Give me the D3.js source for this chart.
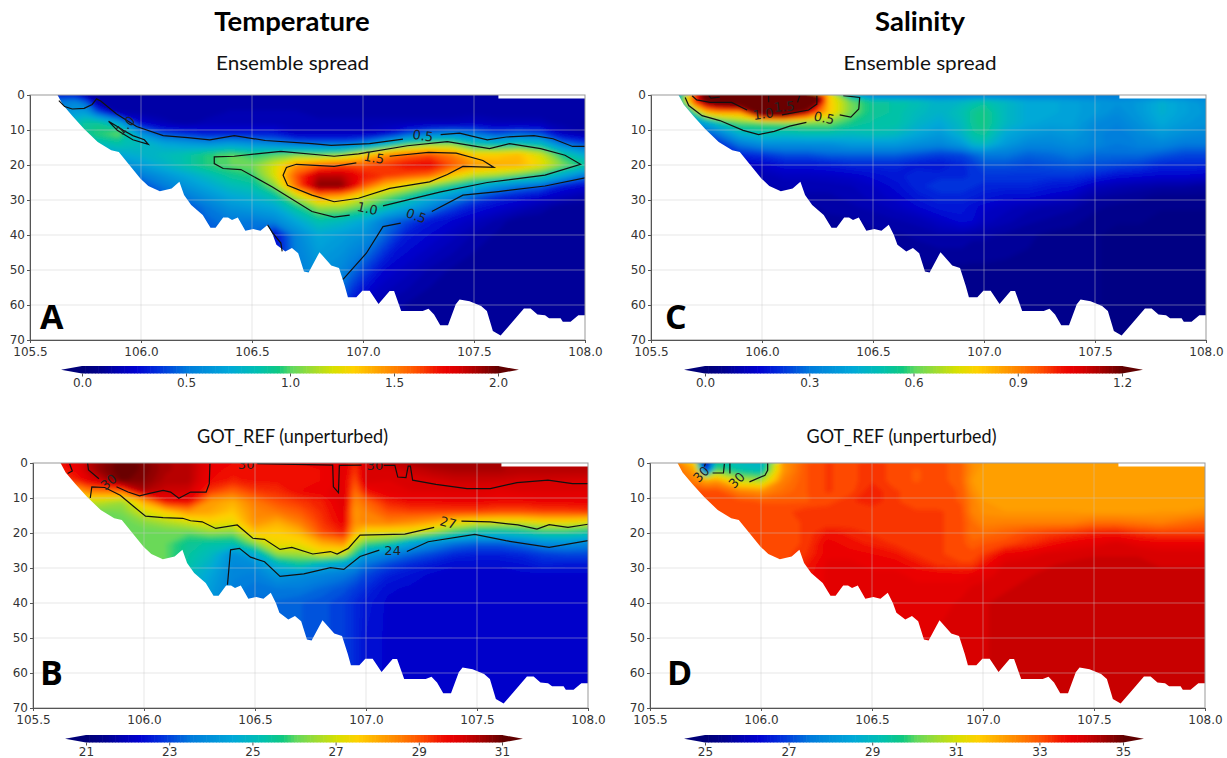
<!DOCTYPE html>
<html>
<head>
<meta charset="utf-8">
<script src="https://cdn.jsdelivr.net/npm/d3@7"></script>
<style>
    html, body { margin: 0; padding: 0; background: white; overflow: hidden; }
    svg { display: block; }
    .tick text { font-family: "DejaVu Sans", sans-serif; fill: #333; }
</style>
</head>
<body>
<script>
// grid the section values were read on
const lons = [105.6, 105.7, 105.75, 105.8, 105.9, 106.0, 106.1, 106.2, 106.3, 106.4, 106.5, 106.6, 106.7, 106.8,
    106.9, 106.95, 107.0, 107.1, 107.2, 107.3, 107.4, 107.5, 107.6, 107.7, 107.8, 107.9, 108.0];
const depths = [0, 2, 5, 8, 11, 14, 17, 20, 23, 26, 29, 32, 36, 40, 50, 60, 70];

// sea floor, [lon, depth]
const seaFloor = [[105.624,0],[105.647,2.7],[105.69,5.9],[105.744,9.7],[105.805,13.4],[105.866,15.8],[105.9,16.3],
    [105.954,20.5],[105.998,23.9],[106.033,26],[106.085,27.5],[106.138,26.7],[106.173,24.8],[106.194,28.6],
    [106.226,31.4],[106.278,34.3],[106.313,37.9],[106.336,37.9],[106.37,35],[106.392,35],[106.41,35.7],[106.436,35],
    [106.47,38.8],[106.506,38.3],[106.538,38.8],[106.571,37.1],[106.594,40],[106.61,42.8],[106.65,44.7],[106.68,43.7],
    [106.708,45.2],[106.734,50.4],[106.755,50.7],[106.804,44.9],[106.857,48.7],[106.892,49.4],[106.918,54.6],
    [106.932,57.8],[106.97,57.8],[106.997,55.9],[107.03,55.9],[107.07,59.7],[107.12,56],[107.14,56],[107.172,61.7],
    [107.269,61.7],[107.295,61.1],[107.32,62.7],[107.348,65.8],[107.383,65.8],[107.418,59.8],[107.435,58.4],
    [107.48,58.9],[107.532,60.3],[107.558,61.7],[107.585,67.4],[107.62,68.7],[107.664,65.5],[107.725,61],[107.755,61],
    [107.786,62.7],[107.82,62.9],[107.838,63.8],[107.89,63.8],[107.9,64.8],[107.935,64.8],[107.97,62.9],[108,62.9]];
// no data in the top metre east of here
const surfaceGap = [107.61, 1];

const spreadTemp = [
    [.3,.3,.15,.12,.12,.12,.12,.12,.12,.12,.12,.12,.12,.12,.12,.12,.12,.12,.12,.12,.12,.12,.12,.12,.12,.12,.12],
    [.5,.55,.45,.15,.14,.14,.14,.14,.14,.14,.14,.14,.14,.14,.14,.14,.14,.14,.14,.14,.14,.14,.14,.14,.14,.14,.14],
    [.5,.65,.65,.45,.15,.14,.14,.14,.14,.16,.16,.16,.16,.14,.14,.14,.14,.14,.14,.14,.14,.14,.14,.14,.14,.14,.14],
    [.5,.8,.9,.9,.7,.25,.17,.14,.17,.17,.17,.17,.17,.17,.17,.17,.17,.17,.17,.17,.17,.2,.17,.17,.17,.14,.12],
    [.5,.8,.9,.95,1.02,.6,.4,.35,.3,.3,.3,.3,.2,.2,.2,.2,.2,.25,.4,.5,.55,.5,.4,.45,.4,.2,.15],
    [.5,.7,.75,.8,.85,.8,.7,.65,.6,.65,.6,.55,.5,.48,.48,.5,.55,.75,.95,1.05,1.05,.85,.8,.85,.8,.5,.4],
    [.4,.5,.55,.6,.7,.75,.8,.85,.95,1.0,.95,.98,1.02,1.0,1.05,1.15,1.25,1.45,1.55,1.6,1.5,1.3,1.3,1.35,1.2,.9,.7],
    [.3,.4,.45,.5,.55,.65,.75,.85,.95,1.0,1.03,1.2,1.45,1.55,1.6,1.6,1.6,1.65,1.72,1.75,1.6,1.45,1.4,1.38,1.25,1.05,.9],
    [.3,.35,.38,.4,.45,.5,.6,.7,.8,.9,.95,1.2,1.6,1.85,1.85,1.78,1.7,1.65,1.6,1.55,1.3,1.15,1.1,1.0,.9,.7,.5],
    [.3,.3,.3,.3,.35,.4,.5,.6,.7,.8,.85,1.05,1.55,1.95,1.95,1.8,1.6,1.35,1.2,1.05,.9,.75,.6,.5,.45,.3,.25],
    [.3,.3,.3,.3,.3,.35,.42,.5,.6,.7,.75,.85,1.15,1.45,1.4,1.3,1.2,1.05,.9,.75,.6,.45,.35,.3,.25,.2,.15],
    [.3,.3,.3,.3,.3,.3,.35,.4,.5,.6,.65,.7,.9,1.1,1.1,1.05,1.0,.85,.7,.55,.4,.3,.25,.2,.15,.1,.1],
    [.3,.3,.3,.3,.3,.3,.32,.38,.45,.5,.5,.55,.7,.85,.8,.75,.7,.5,.4,.3,.25,.2,.15,.1,.1,.1,.1],
    [.3,.3,.3,.3,.3,.3,.3,.35,.4,.45,.45,.25,.55,.7,.65,.62,.6,.45,.3,.25,.2,.15,.12,.1,.1,.1,.1],
    [.3,.3,.3,.3,.3,.3,.3,.3,.35,.4,.4,.25,.5,.6,.55,.48,.4,.25,.2,.15,.12,.1,.1,.1,.1,.1,.1],
    [.3,.3,.3,.3,.3,.3,.3,.3,.35,.4,.4,.25,.5,.5,.4,.28,.2,.15,.12,.1,.1,.1,.1,.1,.1,.1,.1],
    [.3,.3,.3,.3,.3,.3,.3,.3,.35,.4,.4,.25,.5,.5,.4,.28,.2,.15,.12,.1,.1,.1,.1,.1,.1,.1,.1]
];

const spreadSal = [
    [.3,1.0,1.35,1.5,1.5,1.6,1.7,1.6,.8,.45,.3,.3,.3,.3,.3,.3,.3,.3,.3,.3,.3,.3,.3,.3,.3,.3,.3],
    [.3,1.0,1.2,1.3,1.4,1.6,1.7,1.7,.8,.62,.54,.52,.5,.45,.47,.5,.52,.47,.42,.42,.4,.38,.36,.38,.44,.4,.36],
    [.2,.6,.8,.85,.85,1.4,1.4,1.1,.8,.62,.54,.52,.48,.45,.5,.54,.56,.47,.42,.42,.4,.38,.34,.38,.44,.4,.37],
    [.15,.35,.42,.5,.6,.6,.62,.62,.62,.56,.52,.52,.46,.42,.48,.54,.56,.47,.42,.4,.4,.34,.32,.36,.42,.38,.36],
    [.1,.2,.25,.3,.45,.5,.48,.5,.5,.48,.5,.48,.42,.38,.46,.52,.54,.42,.38,.36,.38,.33,.3,.34,.38,.35,.33],
    [.1,.15,.18,.2,.3,.35,.35,.35,.35,.38,.38,.38,.35,.33,.38,.46,.48,.38,.33,.33,.35,.33,.3,.32,.33,.3,.3],
    [.1,.1,.12,.15,.2,.22,.25,.25,.27,.27,.27,.27,.25,.23,.24,.27,.3,.3,.27,.28,.3,.28,.28,.28,.26,.24,.24],
    [.1,.1,.1,.1,.12,.14,.17,.17,.18,.2,.2,.2,.18,.17,.2,.22,.25,.25,.24,.25,.26,.25,.24,.23,.2,.2,.2],
    [.1,.1,.1,.1,.1,.1,.12,.12,.13,.14,.16,.18,.2,.2,.2,.21,.22,.22,.22,.22,.22,.2,.17,.16,.15,.15,.14],
    [.08,.08,.08,.08,.08,.09,.1,.1,.1,.11,.13,.16,.2,.22,.22,.21,.2,.2,.2,.18,.17,.12,.1,.09,.08,.08,.07],
    [.08,.08,.08,.08,.08,.08,.08,.09,.09,.1,.12,.14,.18,.2,.2,.19,.18,.16,.16,.14,.12,.08,.07,.06,.05,.05,.05],
    [.07,.07,.07,.07,.07,.07,.07,.07,.08,.09,.1,.12,.15,.18,.18,.16,.14,.12,.1,.09,.08,.06,.05,.05,.04,.04,.04],
    [.06,.06,.06,.06,.06,.06,.06,.06,.07,.07,.08,.09,.1,.13,.16,.15,.12,.1,.08,.07,.06,.05,.04,.04,.03,.03,.03],
    [.06,.06,.06,.06,.06,.06,.06,.06,.06,.07,.07,.07,.08,.09,.09,.08,.08,.07,.06,.05,.05,.04,.03,.03,.03,.03,.03],
    [.05,.05,.05,.05,.05,.05,.05,.05,.05,.05,.05,.05,.05,.05,.05,.05,.05,.05,.05,.05,.05,.04,.03,.03,.03,.03,.03],
    [.05,.05,.05,.05,.05,.05,.05,.05,.05,.05,.05,.05,.05,.05,.05,.05,.05,.05,.05,.05,.05,.04,.03,.03,.03,.03,.03],
    [.05,.05,.05,.05,.05,.05,.05,.05,.05,.05,.05,.05,.05,.05,.05,.05,.05,.05,.05,.05,.05,.04,.03,.03,.03,.03,.03]
];

const refTemp = [
    [29.5,29.8,30.3,30.6,31,30.8,30.4,30.3,29.8,29.6,29.6,29.6,29.6,29.7,29.9,29.3,30.1,30.2,30.4,30.5,30.5,30.5,30.4,30.3,30.3,30.3,30.3],
    [29.3,29.7,30.2,30.6,31,30.8,30.4,30.3,29.7,29.5,29.5,29.5,29.5,29.6,29.9,29.2,30,30,30.1,30.3,30.4,30.4,30.4,30.3,30.3,30.3,30.3],
    [29,29.4,29.8,30.1,30.9,30.7,30.3,30.3,29.6,29.4,29.5,29.5,29.5,29.6,29.8,29,30,29.9,30,30,30.1,30.1,30.1,30.03,30.05,30.02,30],
    [28,28,28.5,28.6,28.8,30.4,30.1,30.05,29.2,28.8,29.2,29.3,29.6,29.7,29.9,28.7,29.5,29.8,29.9,29.9,29.9,29.9,29.8,29.9,29.9,29.9,29.9],
    [26,26.3,26.8,26.8,26.5,28,29.6,29.7,28.2,27.9,28.6,29,29.2,29.4,29.9,28.4,28.8,29.4,29.6,29.6,29.7,29.7,29.6,29.6,29.7,29.7,29.7],
    [26,26,26,26.1,26.2,27,27.5,28.2,28,27.6,28.4,28.6,28.9,29.3,29.8,28.2,28.5,29,29.1,29.1,29.1,29.1,29,29,29.1,29.1,29.2],
    [26,26,26,26,26,26.3,26.6,26.9,27.3,27.2,28.3,27.9,28.5,29.2,29.7,28.3,28.4,28.5,28.3,28,27.3,27,26.9,26.9,27.2,27.2,27],
    [26,26,26,26,26,26,26,26,26.3,26.2,27.6,27.5,27.8,29,29.4,27.8,27.2,27.1,27,26.3,25.6,25,25,25.2,25.5,25.5,25.3],
    [26,26,26,26,26,26,26,25.5,25.3,25.2,26.3,27.3,27.3,27.9,28.3,26.7,25.9,25.5,24.4,23.8,23.4,23.2,23.2,23.4,23.8,23.9,23.7],
    [26,26,26,26,26,26,26,25.4,25,23.9,24.6,26.4,26.5,27.1,26.8,25.6,24.2,23.7,23.3,23,22.7,22.6,22.6,22.7,22.9,23,23],
    [26,26,26,26,26,26,26,25.3,24.7,23.8,23.9,24.8,25.4,24.7,24.3,23.9,23.4,23,22.7,22.5,22.3,22.3,22.3,22.4,22.6,22.5,22.5],
    [26,26,26,26,26,26,26,25,24.4,23.7,23.6,24.1,23.9,23.7,23.5,23.3,23,22.6,22.4,22.2,22.1,22.1,22.1,22.2,22.2,22.2,22.2],
    [26,26,26,26,26,26,25.5,25,24.2,23.6,23.4,23.5,23.5,23.3,23.1,22.9,22.7,22.3,22.2,22.1,22.1,22.1,22.1,22.1,22.1,22.1,22.1],
    [26,26,26,26,26,26,25.5,25,24,23.4,23.3,23.3,23.2,23.1,22.9,22.7,22.5,22.2,22.1,22.1,22.1,22.1,22.1,22.1,22.1,22.1,22.1],
    [26,26,26,26,26,26,25.5,25,24,23.4,23.3,23.3,23.2,23.1,22.9,22.7,22.4,22.2,22.1,22.1,22.1,22.1,22.1,22.1,22.1,22.1,22.1],
    [26,26,26,26,26,26,25.5,25,24,23.4,23.3,23.3,23.2,23.1,22.9,22.7,22.4,22.2,22.1,22.1,22.1,22.1,22.1,22.1,22.1,22.1,22.1],
    [26,26,26,26,26,26,25.5,25,24,23.4,23.3,23.3,23.2,23.1,22.9,22.7,22.4,22.2,22.1,22.1,22.1,22.1,22.1,22.1,22.1,22.1,22.1]
];

const refSal = [
    [33,31.5,25.5,29.5,29,28.8,32.3,32.95,33.15,33.05,33.25,33.05,33.05,33.05,32.85,32.35,32.2,32.05,32.05,32.05,32.05,32.05,32.05,32.05,32.05,32.05,32.05],
    [33,32,26.5,30,29.3,29,32.2,32.95,33.15,33.05,33.25,33.05,32.95,33.05,32.85,32.35,32.05,32.05,32.05,32.05,32.05,32.05,32.05,32.05,32.05,32.05,32.05],
    [33,32.5,32,32.2,30.8,30.5,32.5,32.95,33.15,33.05,33.25,33.05,32.95,33.05,32.85,32.2,32.05,32.05,32.05,32.05,32.05,32.05,32.05,32.05,32.05,32.05,32.05],
    [33.05,33.05,33.05,33.05,32.5,32.3,32.7,32.95,33.15,33.05,33.4,33.15,33.05,33.05,32.95,32.35,32.05,32.05,32.05,32.05,32.05,32.05,32.05,32.05,32.05,32.05,32.05],
    [33.05,33.05,33.05,33.05,33.05,32.95,32.95,32.95,33.05,33.25,33.4,33.15,33.05,33.05,32.95,32.5,32.2,32.05,32.05,32.05,32.05,32.05,32.05,32.05,32.05,32.05,32.05],
    [33.05,33.05,33.05,33.05,33.05,33.05,33.05,33.25,33.25,33.15,33.15,33.15,33.15,33.15,33.05,32.5,32.3,32.2,32.2,32.2,32.2,32.15,32.15,32.15,32.2,32.2,32.3],
    [33.05,33.05,33.05,33.05,33.05,33.05,33.05,33.15,33.15,33.15,33.15,33.15,33.15,33.15,33.05,32.7,32.45,32.5,32.5,32.5,32.5,32.7,32.7,32.6,32.5,32.7,32.85],
    [33.05,33.05,33.05,33.05,33.05,33.05,33.05,33.15,33.5,33.4,33.25,33.15,33.15,33.15,33.05,32.7,32.7,32.85,33.05,33.15,33.25,33.4,33.45,33.25,33.15,33.15,33.15],
    [33.05,33.05,33.05,33.05,33.05,33.05,33.05,33.15,33.7,33.5,33.4,33.25,33.15,33.15,33.05,32.85,32.95,33.05,33.25,33.5,33.7,33.8,33.95,33.8,33.7,33.7,33.7],
    [33.05,33.05,33.05,33.05,33.05,33.05,33.05,33.25,33.7,33.7,33.6,33.5,33.25,33.15,33.05,33.05,33.15,33.7,33.8,33.95,34,34.05,34.05,34.05,34,34,34],
    [33.05,33.05,33.05,33.05,33.05,33.05,33.05,33.4,33.8,33.8,33.7,33.7,33.5,33.25,33.15,33.15,33.5,33.95,34,34.05,34.1,34.1,34.1,34.1,34.05,34.05,34.05],
    [33.05,33.05,33.05,33.05,33.05,33.05,33.05,33.5,33.8,33.8,33.8,33.8,33.7,33.7,33.7,33.75,33.8,34,34.05,34.1,34.12,34.12,34.12,34.12,34.1,34.1,34.1],
    [33.05,33.05,33.05,33.05,33.05,33.05,33.05,33.5,33.8,33.8,33.8,33.8,33.8,33.8,33.8,33.95,34,34.05,34.1,34.12,34.12,34.15,34.15,34.12,34.12,34.1,34.1],
    [33.05,33.05,33.05,33.05,33.05,33.05,33.05,33.5,33.8,33.8,33.8,33.8,33.8,33.8,33.95,34,34.05,34.1,34.1,34.12,34.12,34.15,34.15,34.12,34.12,34.1,34.1],
    [33.05,33.05,33.05,33.05,33.05,33.05,33.05,33.5,33.8,33.8,33.8,33.8,33.8,33.95,34,34.05,34.05,34.1,34.1,34.12,34.12,34.15,34.15,34.12,34.12,34.1,34.1],
    [33.05,33.05,33.05,33.05,33.05,33.05,33.05,33.5,33.8,33.8,33.8,33.8,33.8,33.95,34,34.05,34.05,34.1,34.1,34.12,34.12,34.15,34.15,34.12,34.12,34.1,34.1],
    [33.05,33.05,33.05,33.05,33.05,33.05,33.05,33.5,33.8,33.8,33.8,33.8,33.8,33.95,34,34.05,34.05,34.1,34.1,34.12,34.12,34.15,34.15,34.12,34.12,34.1,34.1]
];

// contour lines, [lon, depth]
const spreadTempLines = [
    [[105.63,1.6],[105.656,3.3],[105.69,4],[105.744,3.8],[105.78,2.7],[105.8,1.1],[105.82,1.8],[105.89,5.4],[105.98,9],[106.1,11.6],[106.21,12.2],[106.31,12.8],[106.42,11.6],[106.56,13],[106.77,13.9],[106.857,14.4],[107.03,13.9],[107.18,12.6]],
    [[107.35,11.3],[107.435,10.9],[107.56,12.8],[107.646,12],[107.77,11.6],[107.856,12.5],[107.944,14.7],[108,14.7]],
    [[105.854,7.5],[105.893,10.1],[105.963,12.8],[106.033,14.1],[106.015,12.8],[105.963,11.6],[105.92,10.1],[105.893,9],[105.854,7.5]],
    [[107.09,31.7],[107.35,27.7],[107.56,25],[107.82,22.9],[107.98,19.8],[107.91,17.2],[107.8,15.3],[107.66,13.9],[107.57,15.3],[107.38,13.3],[107.2,14.5],[106.98,16.8],[106.87,17.5],[106.63,16.1],[106.42,17.5],[106.33,17.7],[106.33,19.6],[106.37,21],[106.45,21.3],[106.59,26.2],[106.77,33.3],[106.87,34.9],[106.94,34.3]],
    [[106.97,19.4],[106.87,20.4],[106.7,19.8],[106.655,20.7],[106.64,22.9],[106.66,25.8],[106.77,28.6],[106.87,30.5],[106.98,29.5],[107.12,26.7],[107.3,24.8],[107.38,22.7],[107.45,20.4],[107.59,20.7],[107.54,18.7],[107.42,16.6],[107.295,16.4],[107.12,17.5]],
    [[106.91,52.7],[107.015,45.2],[107.09,37.6],[107.17,36.6]],
    [[107.31,33.3],[107.45,28.6],[107.61,27.6],[107.82,26],[108,23.7]],
    [[106.57,37.1],[106.594,39.5],[106.63,42.3],[106.636,44.7]]
];
const spreadTempLabels = [[107.27,11.6,"0.5",8],[107.05,17.9,"1.5",10],[107.02,32.4,"1.0",12],[107.24,34.5,"0.5",20],[105.93,8.7,"1.0",-45]];

const spreadSalLines = [
    [[105.654,.7],[105.67,3],[105.73,5.9],[105.81,7.3],[105.915,10.1],[105.985,11.3],[106.055,10.4],[106.125,8.9],[106.2,7.8]],
    [[106.35,5.7],[106.4,6.3],[106.436,4],[106.44,.7],[106.366,.2]],
    [[105.685,.2],[105.706,1.4],[105.767,2.1],[105.863,2.1],[105.933,4.3]],
    [[106.09,5.7],[106.21,4.3],[106.247,2.6],[106.247,.2]],
    [[105.76,.2],[105.77,.9],[105.81,.6]],
    [[106.03,.2],[106.03,2.1]],
    [[106.17,.2],[106.16,2.1]]
];
const spreadSalLabels = [[106.006,5.4,"1.0",-8],[106.1,3.3,"1.5",-5],[106.28,6.5,"0.5",12]];

const refTempLines = [
    [[105.665,.2],[105.677,2.3],[105.656,3]],
    [[105.746,0],[105.75,2],[105.797,4.5]],
    [[105.876,6.8],[105.928,8.3],[105.98,9.4],[106.025,8.7],[106.086,7.8],[106.12,8.3],[106.157,10.1],[106.21,8.3],[106.28,8.3],[106.294,5.9],[106.297,.2]],
    [[106.51,.2],[106.68,.4],[106.85,.6],[106.853,6.8],[106.876,8.5],[106.88,.7],[106.98,.6]],
    [[107.08,.7],[107.13,.7],[107.143,4],[107.18,4.2],[107.19,.9],[107.2,.9],[107.21,4.9],[107.315,6.1],[107.455,7.3],[107.56,7.3],[107.68,5.6],[107.82,4.9],[107.93,5.9],[108,5.9]],
    [[105.758,10],[105.765,6.8],[105.823,7],[105.893,9.2],[105.955,12.5],[106.007,15.2],[106.086,15.6],[106.174,15.8],[106.21,16.5],[106.262,16.8],[106.323,18.7],[106.42,17.7],[106.49,21.5],[106.543,21.8],[106.613,24.7],[106.666,24.1],[106.76,26],[106.84,25.3],[106.87,26],[106.92,24.4],[106.973,20.6],[107.175,20.3],[107.307,18.4]],
    [[107.43,16.6],[107.56,16.8],[107.684,17.7],[107.77,18.9],[107.825,17.6],[107.91,18.4],[108,17.5]],
    [[106.376,34.8],[106.39,24.8],[106.43,24.4],[106.48,26.9],[106.543,28.2],[106.613,32.4],[106.72,31.7],[106.84,29.9],[106.9,30.4],[106.973,26.7],[107.06,24.9]],
    [[107.184,25.3],[107.28,22.5],[107.49,20.4],[107.63,22.2],[107.825,24.1],[108,22.2]]
];
const refTempLabels = [[106.46,.4,"30",0],[107.04,.7,"30",0],[105.84,5.4,"30",-40],[107.37,17,"27",15],[107.12,24.9,"24",0]];

const refSalLines = [
    [[105.75,.1],[105.745,1]],
    [[105.782,2.85],[105.831,2.85],[105.835,.2]],
    [[105.86,0],[105.86,3]],
    [[105.948,5.4],[106.018,3.5],[106.03,2.1],[106.03,0]]
];
const refSalLabels = [[105.73,3.2,"30",-45],[105.89,4.9,"30",-45]];

// colour map as seen on the colour bars, position 0-1
const cmapStops = [0, .04, .08, .125, .18, .25, .35, .42, .47, .5, .55, .6, .65, .7, .75, .8, .85, .875, .9, .95, 1];
const cmapColors = ["#000078", "#00008c", "#0000b0", "#0000d0", "#0030dc", "#007cdc", "#00a8d8", "#00c0b0", "#10c880",
    "#60d860", "#a0dc30", "#d8e000", "#ffd000", "#ffa800", "#ff8000", "#ff5000", "#f01000", "#e80000", "#d80000", "#a00000", "#600000"];

const xTicks = [105.5, 106.0, 106.5, 107.0, 107.5, 108.0];
const yTicks = [0, 10, 20, 30, 40, 50, 60, 70];

const panels = [
    {id: "A", values: spreadTemp, lines: spreadTempLines, labels: spreadTempLabels, range: [0, 2], cbTicks: [0, .5, 1, 1.5, 2], cbFormat: ".1f",
        title: "Ensemble spread", titleAt: [292.5, 70], titleWidth: 153,
        left: 30, right: 585, top: 95, bar: [82, 498], barTop: 366, letter: [40, 329]},
    {id: "C", values: spreadSal, lines: spreadSalLines, labels: spreadSalLabels, range: [0, 1.2], cbTicks: [0, .3, .6, .9, 1.2], cbFormat: ".1f",
        title: "Ensemble spread", titleAt: [920, 70], titleWidth: 153,
        left: 651, right: 1206, top: 95, bar: [705, 1122], barTop: 366, letter: [665, 329]},
    {id: "B", values: refTemp, lines: refTempLines, labels: refTempLabels, range: [21, 31], cbTicks: [21, 23, 25, 27, 29, 31], cbFormat: "d",
        title: "GOT_REF (unperturbed)", titleAt: [292.5, 443], titleWidth: 191,
        left: 33, right: 588, top: 463, bar: [86, 502], barTop: 735, letter: [40, 685]},
    {id: "D", values: refSal, lines: refSalLines, labels: refSalLabels, range: [25, 35], cbTicks: [25, 27, 29, 31, 33, 35], cbFormat: "d",
        title: "GOT_REF (unperturbed)", titleAt: [901.5, 443], titleWidth: 190,
        left: 650, right: 1205, top: 463, bar: [705, 1123], barTop: 735, letter: [667, 685]}
];

const width = 1227, height = 758, plotHeight = 245, barHeight = 7.5, levels = 64;

const svg = d3.select("body").append("svg").attr("width", width).attr("height", height);
const defs = svg.append("defs");

// the field is a little soft in the reference
defs.append("filter").attr("id", "soft")
    .attr("filterUnits", "userSpaceOnUse").attr("x", 0).attr("y", 0).attr("width", width).attr("height", height)
    .append("feGaussianBlur").attr("stdDeviation", 2);

const cmap = d3.scaleLinear().domain(cmapStops).range(cmapColors).clamp(true);

// grid index to data value, the grid is not evenly spaced
const lonOfIndex = d3.scaleLinear().domain(lons.map((d, i) => i)).range(lons);
const depthOfIndex = d3.scaleLinear().domain(depths.map((d, i) => i)).range(depths);

function drawPanel(p) {
    const x = d3.scaleLinear().domain([105.5, 108]).range([p.left, p.right]);
    const y = d3.scaleLinear().domain([0, 70]).range([p.top, p.top + plotHeight]);
    const norm = d3.scaleLinear().domain(p.range).range([0, 1]);

    // water only, sea floor below and the surface notch on the right
    const outline = [[seaFloor[0][0], 0], [surfaceGap[0], 0], [surfaceGap[0], surfaceGap[1]], [108, surfaceGap[1]]]
        .concat(seaFloor.slice().reverse());
    const line = d3.line().x(d => x(d[0])).y(d => y(d[1]));
    defs.append("clipPath").attr("id", "water" + p.id).append("path").attr("d", line(outline) + "Z");
    defs.append("clipPath").attr("id", "frame" + p.id).append("rect")
        .attr("x", p.left).attr("y", p.top).attr("width", p.right - p.left).attr("height", plotHeight);

    // filled bands
    const step = (p.range[1] - p.range[0]) / levels;
    const thresholds = d3.range(levels).map(i => p.range[0] + i * step);
    thresholds[0] = p.range[0] - 1;
    const contours = d3.contours().size([lons.length, depths.length]).thresholds(thresholds)(p.values.flat());
    const project = d3.geoTransform({
        point: function (px, py) {
            this.stream.point(x(lonOfIndex(px - 0.5)), y(depthOfIndex(py - 0.5)));
        }
    });
    const path = d3.geoPath(project);

    svg.append("g").attr("clip-path", "url(#water" + p.id + ")")
        .append("g").attr("filter", "url(#soft)")
        .selectAll("path").data(contours).join("path")
        .attr("d", path)
        .attr("fill", (d, i) => cmap(norm(p.range[0] + (i + 0.5) * step)));

    // grid shows faintly over the field
    const grid = svg.append("g").attr("stroke", "#c8c8c8").attr("stroke-opacity", 0.45).attr("stroke-width", 1);
    grid.selectAll("line.v").data(xTicks.slice(1, -1)).join("line").attr("class", "v")
        .attr("x1", d => x(d)).attr("x2", d => x(d)).attr("y1", y(0)).attr("y2", y(70));
    grid.selectAll("line.h").data(yTicks.slice(1, -1)).join("line").attr("class", "h")
        .attr("x1", x(105.5)).attr("x2", x(108)).attr("y1", d => y(d)).attr("y2", d => y(d));

    // contour lines and their labels
    const marks = svg.append("g").attr("clip-path", "url(#frame" + p.id + ")");
    marks.selectAll("path").data(p.lines).join("path")
        .attr("d", line).attr("fill", "none").attr("stroke", "#111").attr("stroke-width", 1.2);
    marks.selectAll("text").data(p.labels).join("text")
        .attr("transform", d => "translate(" + x(d[0]) + "," + y(d[1]) + ") rotate(" + d[3] + ")")
        .attr("text-anchor", "middle").attr("dy", "0.36em")
        .attr("font-family", "DejaVu Sans").attr("font-size", 13).attr("fill", "#222")
        .text(d => d[2]);

    // axes
    svg.append("rect").attr("x", p.left).attr("y", p.top).attr("width", p.right - p.left).attr("height", plotHeight)
        .attr("fill", "none").attr("stroke", "#999").attr("stroke-width", 1);
    const xAxis = svg.append("g").attr("transform", "translate(0," + y(70) + ")")
        .call(d3.axisBottom(x).tickValues(xTicks).tickFormat(d3.format(".1f")).tickSize(3).tickPadding(4));
    const yAxis = svg.append("g").attr("transform", "translate(" + x(105.5) + ",0)")
        .call(d3.axisLeft(y).tickValues(yTicks).tickSize(3).tickPadding(2));
    [xAxis, yAxis].forEach(function (a) {
        a.attr("font-size", 12);
        a.selectAll(".domain, .tick line").attr("stroke", "#555");
    });

    // panel letter
    svg.append("text").attr("x", p.letter[0]).attr("y", p.letter[1])
        .attr("font-family", "Open Sans").attr("font-weight", "bold").attr("font-size", 34).attr("fill", "#000")
        .text(p.id);

    // panel title
    svg.append("text").attr("x", p.titleAt[0]).attr("y", p.titleAt[1]).attr("text-anchor", "middle")
        .attr("font-family", "Lato").attr("font-size", 20)
        .attr("textLength", p.titleWidth).attr("lengthAdjust", "spacingAndGlyphs").attr("fill", "#111")
        .text(p.title);

    // colour bar with its extension arrows
    const barScale = d3.scaleLinear().domain(p.range).range(p.bar);
    const swatches = d3.range(0, 1, 1 / 128);
    svg.append("g").selectAll("rect").data(swatches).join("rect")
        .attr("x", d => p.bar[0] + d * (p.bar[1] - p.bar[0]))
        .attr("y", p.barTop)
        .attr("width", (p.bar[1] - p.bar[0]) / 128 + 0.6)
        .attr("height", barHeight)
        .attr("fill", d => cmap(d));
    svg.append("path")
        .attr("d", "M" + p.bar[0] + "," + p.barTop + "L" + (p.bar[0] - 21) + "," + (p.barTop + barHeight / 2) + "L" + p.bar[0] + "," + (p.barTop + barHeight) + "Z")
        .attr("fill", cmap(0));
    svg.append("path")
        .attr("d", "M" + p.bar[1] + "," + p.barTop + "L" + (p.bar[1] + 21) + "," + (p.barTop + barHeight / 2) + "L" + p.bar[1] + "," + (p.barTop + barHeight) + "Z")
        .attr("fill", cmap(1));
    svg.append("g").attr("transform", "translate(0," + (p.barTop + barHeight) + ")")
        .call(d3.axisBottom(barScale).tickValues(p.cbTicks).tickFormat(d3.format(p.cbFormat)).tickSize(3).tickPadding(2))
        .call(g => g.select(".domain").remove())
        .call(g => g.selectAll(".tick line").attr("stroke", "#555"))
        .attr("font-size", 12);
}

panels.forEach(drawPanel);

// column headings
svg.selectAll("text.heading").data([["Temperature", 292], ["Salinity", 920]]).join("text")
    .attr("class", "heading")
    .attr("x", d => d[1]).attr("y", 31).attr("text-anchor", "middle")
    .attr("font-family", "Lato").attr("font-weight", "bold").attr("font-size", 27.5).attr("fill", "#000")
    .text(d => d[0]);
</script>
</body>
</html>
